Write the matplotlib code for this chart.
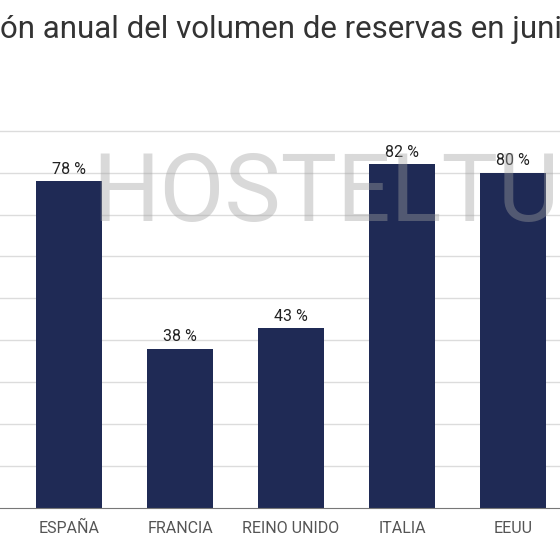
import matplotlib
matplotlib.use("Agg")
import matplotlib.pyplot as plt

plt.rcParams['font.family'] = ['Roboto', 'DejaVu Sans']

categories = ['ESPAÑA', 'FRANCIA', 'REINO UNIDO', 'ITALIA', 'EEUU']
values = [78, 38, 43, 82, 80]
left_label = 'ALEMANIA'  # bar cut off by the crop
title = 'Variación anual del volumen de reservas en junio'

fig = plt.figure(figsize=(5.6, 5.6), dpi=100)
ax = fig.add_axes([0, 0.093, 1, 0.907])

pos = list(range(1, len(categories) + 1))
ax.bar(pos, values, width=0.6, color='#1f2a55', zorder=2)
for p, v in zip(pos, values):
    ax.text(p, v + 1.0, '%d %%' % v, ha='center', va='bottom', fontsize=11.5, color='#222222', zorder=3)

ax.set_xlim(0.378, 5.423)
ax.set_ylim(0, 121.2)
ax.set_yticks(range(10, 100, 10))
ax.yaxis.grid(True, color='#dcdcdc', lw=1, zorder=0)
ax.tick_params(left=False, labelleft=False, bottom=False, pad=6)
ax.set_xticks(pos)
ax.set_xticklabels(categories, fontsize=11.5, color='#555555')
for s in ['top', 'right', 'left']:
    ax.spines[s].set_visible(False)
ax.spines['bottom'].set_color('#777777')
ax.text(0, -0.02, left_label, transform=ax.get_xaxis_transform(), ha='center', va='top',
        fontsize=11.5, color='#555555', clip_on=False)

# watermark
fig.text(92 / 560, 1 - 195 / 560, 'HOSTELTUR', fontsize=68, color='#a0a0a0', alpha=0.4,
         ha='left', va='center', zorder=5)

# title, cut at both sides
fig.canvas.draw()
r = fig.canvas.get_renderer()
tmp = fig.text(0, 0, 'Variaci', fontsize=22.5)
w = tmp.get_window_extent(r).width
tmp.remove()
fig.text(-w / 560, 1 - 30 / 560, title, fontsize=22.5, color='#333333', ha='left', va='center')

fig.savefig('out.png', dpi=100, facecolor='white')
